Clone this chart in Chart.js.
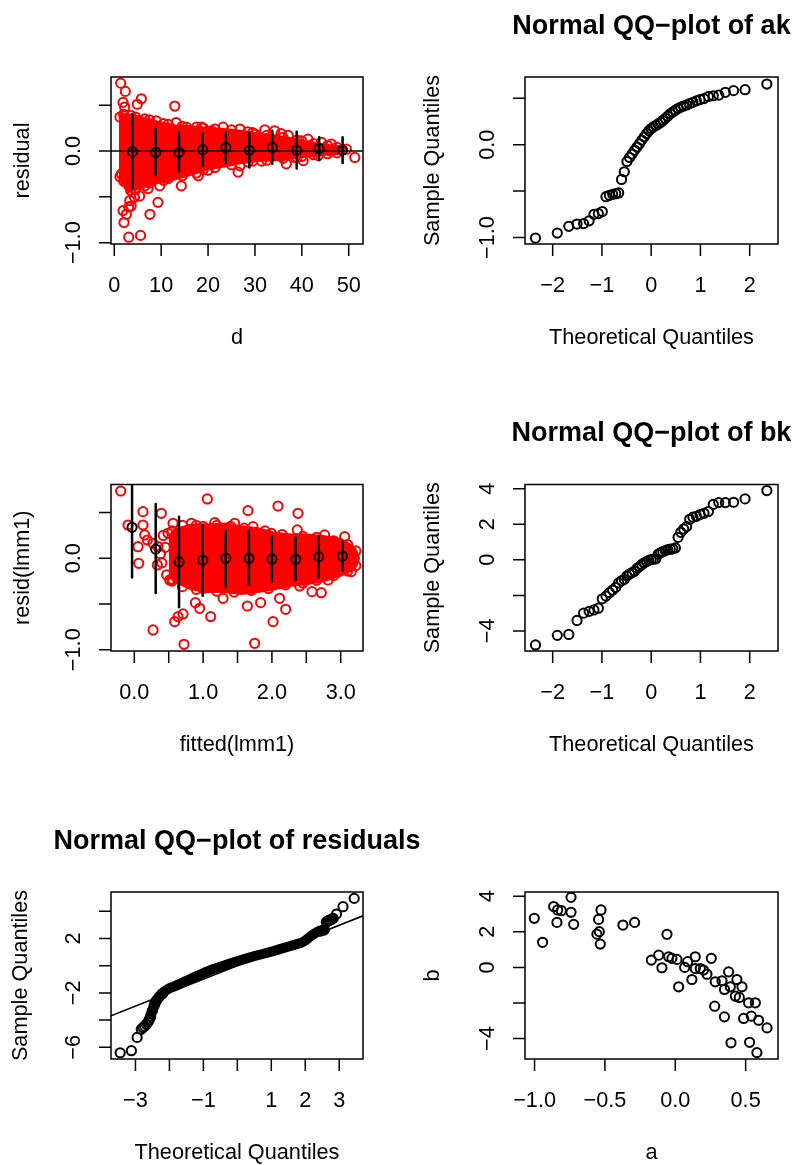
<!DOCTYPE html>
<html>
<head>
<meta charset="utf-8">
<title>lmm1 diagnostics</title>
<script src="https://cdn.jsdelivr.net/npm/chart.js@4.4.1/dist/chart.umd.min.js"></script>
<style>
  html, body { margin: 0; padding: 0; background: #fff; }
  #page { position: relative; width: 797px; height: 1165px; overflow: hidden; background: #fff; }
  #page canvas { position: absolute; left: 0; top: 0; }
</style>
</head>
<body>
<div id="page">
  <canvas id="p1" width="797" height="1165"></canvas>
  <canvas id="p2" width="797" height="1165"></canvas>
  <canvas id="p3" width="797" height="1165"></canvas>
  <canvas id="p4" width="797" height="1165"></canvas>
  <canvas id="p5" width="797" height="1165"></canvas>
  <canvas id="p6" width="797" height="1165"></canvas>
</div>
<script>
// ---- residual vs d ----
// scattered red circles (outside the dense core)
const resD = [1.36, 2.35, 1.86, 2.2, 4.9, 5.77, 12.9, 8.97, 13.2, 15.4, 23.2, 26.8, 32.1, 35.6, 37.1, 41.3, 46.3, 51.3, 49.5, 40.3,
  36.7, 31.4, 26.4, 26.8, 20.0, 17.9, 14.3, 9.7, 7.2, 5.4, 9.3, 7.6, 3.3, 1.86, 3.07, 2.07, 3.07, 5.6, 2.57, 3.6,
  4.3, 1.5, 18.6, 20.7, 30.0, 34.2, 41.7, 44.2, 43.5, 46.0, 38.5, 35.6];
const resY = [0.74, 0.65, 0.53, 0.48, 0.51, 0.57, 0.49, 0.33, 0.31, 0.26, 0.26, 0.24, 0.23, 0.19, 0.17, 0.13, 0.076, -0.07, 0.02, -0.105,
  -0.14, -0.11, -0.23, -0.16, -0.21, -0.27, -0.38, -0.38, -0.41, -0.49, -0.56, -0.69, -0.54, -0.65, -0.61, -0.78, -0.94, -0.92, -0.69, -0.60,
  -0.505, -0.25, 0.26, 0.22, 0.185, 0.22, 0.06, 0.095, -0.05, 0.0, -0.07, -0.05];
// circles sitting on the rim of the dense core
const resRimD = [1.2, 2.0, 3.5, 4.5, 6.5, 7.5, 10.5, 11.5, 14.5, 17.5, 19, 21.5, 25, 28.5, 29.5, 32.5, 36, 39, 40, 42.5, 45.5, 47.5,
  1.2, 2.0, 3.5, 4.5, 6.5, 7.5, 10.5, 11.5, 14.5, 17.5, 19, 21.5, 25, 28.5, 29.5, 32.5, 36, 39, 40, 42.5, 45.5, 47.5];
const resRimY = [0.37, 0.40, 0.39, 0.37, 0.35, 0.34, 0.30, 0.29, 0.27, 0.26, 0.25, 0.24, 0.23, 0.21, 0.20, 0.17, 0.15, 0.12, 0.11, 0.08, 0.06, 0.04,
  -0.28, -0.33, -0.43, -0.42, -0.38, -0.35, -0.32, -0.30, -0.27, -0.24, -0.20, -0.18, -0.15, -0.12, -0.11, -0.10, -0.08, -0.07, -0.06, -0.04, -0.03, -0.02];
// outline of the solid red core
const resBandD = [1.0, 1.5, 2.9, 5.8, 9.3, 12.9, 16.4, 20.0, 23.6, 27.1, 30.7, 34.2, 37.8, 41.3, 44.9, 48.4, 49.5];
const resBandHi = [0.37, 0.40, 0.40, 0.37, 0.32, 0.28, 0.27, 0.25, 0.24, 0.22, 0.19, 0.17, 0.14, 0.10, 0.07, 0.05, 0.03];
const resBandLo = [-0.27, -0.35, -0.45, -0.40, -0.35, -0.31, -0.26, -0.20, -0.17, -0.13, -0.11, -0.10, -0.08, -0.06, -0.04, -0.03, -0.01];
// binned means with bars
const binD = [3.85, 8.83, 13.8, 18.85, 23.8, 28.8, 33.7, 38.9, 43.7, 48.7];
const binMean = [-0.007, -0.015, -0.015, 0.015, 0.04, 0.01, 0.04, 0.01, 0.025, 0.01];
const binLo = [-0.41, -0.26, -0.22, -0.16, -0.13, -0.18, -0.14, -0.19, -0.10, -0.13];
const binHi = [0.40, 0.24, 0.20, 0.19, 0.21, 0.20, 0.22, 0.21, 0.15, 0.15];

// ---- normal QQ of ak and bk ----
const qqTheo = [-2.349, -1.906, -1.673, -1.506, -1.372, -1.260, -1.162, -1.073, -0.993, -0.918, -0.848, -0.782, -0.720, -0.660,
  -0.602, -0.546, -0.492, -0.440, -0.388, -0.337, -0.287, -0.238, -0.190, -0.142, -0.095, -0.047, 0, 0.047, 0.095, 0.142,
  0.190, 0.238, 0.287, 0.337, 0.388, 0.440, 0.492, 0.546, 0.602, 0.660, 0.720, 0.782, 0.848, 0.918, 0.993, 1.073, 1.162,
  1.260, 1.372, 1.506, 1.673, 1.906, 2.349];
const akSample = [-1.006, -0.952, -0.880, -0.855, -0.850, -0.820, -0.750, -0.742, -0.720, -0.560, -0.545, -0.535, -0.528, -0.520,
  -0.374, -0.291, -0.180, -0.137, -0.100, -0.060, -0.025, 0.010, 0.050, 0.085, 0.120, 0.150, 0.175, 0.193, 0.208, 0.224,
  0.240, 0.261, 0.284, 0.308, 0.333, 0.352, 0.372, 0.390, 0.405, 0.417, 0.429, 0.443, 0.457, 0.473, 0.486, 0.497, 0.520,
  0.528, 0.535, 0.565, 0.583, 0.593, 0.654];
const bkSample = [-4.79, -4.25, -4.20, -3.41, -3.00, -2.90, -2.82, -2.72, -2.19, -2.04, -1.85, -1.70, -1.55, -1.30,
  -1.18, -1.10, -0.90, -0.80, -0.72, -0.64, -0.48, -0.38, -0.26, -0.17, -0.10, -0.03, 0.02, 0.04, 0.06, 0.32,
  0.40, 0.46, 0.52, 0.57, 0.60, 0.62, 0.67, 1.27, 1.55, 1.74, 1.87, 2.28, 2.40, 2.45, 2.55, 2.62, 2.72,
  3.12, 3.22, 3.22, 3.24, 3.43, 3.90];

// ---- resid vs fitted ----
const fitX = [-0.198, 0.126, 0.393, 1.061, 1.652, 2.088, 2.379, -0.092, 0.126, 0.151, 0.054, 0.064, 0.19, 0.27, 0.344, 0.335, 0.272, 0.587,
  0.635, 0.708, 0.722, 0.888, 0.95, 1.11, 1.29, 1.643, 1.749, 1.836, 2.016, 2.2, 2.112, 2.583, 2.718, 2.403, 2.815, 3.154, 3.20,
  3.057, 0.514, 0.563, 0.83, 1.169, 1.459, 1.725, 1.991, 2.369, 2.766, 0.49, 0.42, 0.45, 0.40, 0.47, 0.55, 0.38];
const fitY = [0.736, 0.51, 0.492, 0.649, 0.521, 0.572, 0.492, 0.364, 0.364, 0.255, 0.127, -0.055, 0.20, 0.164, 0.127, -0.073, -0.784, -0.693,
  -0.638, -0.609, -0.941, -0.485, -0.547, -0.638, -0.438, -0.522, -0.93, -0.485, -0.693, -0.558, -0.438, -0.365, -0.376, -0.303, -0.237, -0.146, 0.0,
  0.237, -0.237, 0.383, 0.383, 0.39, 0.383, 0.346, 0.273, 0.31, 0.255, 0.273, 0.25, 0.12, -0.05, -0.18, -0.25, 0.05];
const fitRimX = [0.55, 0.7, 0.9, 1.0, 1.2, 1.4, 1.6, 1.9, 2.15, 2.45, 2.65, 2.9, 3.1, 3.22,
  0.55, 0.7, 0.9, 1.0, 1.2, 1.45, 1.7, 1.95, 2.2, 2.45, 2.65, 2.9, 3.1, 3.22];
const fitRimY = [0.30, 0.36, 0.36, 0.35, 0.36, 0.35, 0.33, 0.30, 0.26, 0.24, 0.23, 0.19, 0.15, 0.08,
  -0.23, -0.31, -0.34, -0.33, -0.36, -0.37, -0.35, -0.33, -0.29, -0.27, -0.24, -0.19, -0.14, -0.08];
const fitBandX = [0.5, 0.59, 0.83, 1.07, 1.31, 1.556, 1.8, 2.04, 2.28, 2.52, 2.77, 3.01, 3.2, 3.25];
const fitBandHi = [0.24, 0.32, 0.37, 0.37, 0.38, 0.35, 0.33, 0.28, 0.26, 0.26, 0.24, 0.21, 0.12, 0.05];
const fitBandLo = [-0.19, -0.26, -0.34, -0.37, -0.37, -0.39, -0.37, -0.34, -0.30, -0.28, -0.245, -0.19, -0.12, -0.05];
const fitBinX = [-0.033, 0.311, 0.65, 0.994, 1.328, 1.667, 2.0, 2.345, 2.68, 3.024];
const fitBinMean = [0.339, 0.10, -0.037, -0.019, 0.0, 0.0, -0.008, -0.011, 0.018, 0.025];
const fitBinLo = [-0.21, -0.38, -0.536, -0.41, -0.317, -0.29, -0.255, -0.237, -0.208, -0.135];
const fitBinHi = [0.85, 0.594, 0.455, 0.364, 0.31, 0.30, 0.244, 0.23, 0.237, 0.182];

// ---- normal QQ of residuals ----
const qqResCoreX = [-2.55, -2.48, -2.40, -2.33, -2.24, -2.14, -2.0, -1.84, -1.6, -1.45, -1.2, -0.96, -0.7, -0.47, -0.2, 0.02,
  0.3, 0.51, 0.8, 1.0, 1.25, 1.49, 1.7, 1.89, 2.0, 2.08, 2.18, 2.28, 2.4, 2.52, 2.58];
const qqResCoreY = [-3.55, -3.14, -2.60, -2.35, -2.08, -1.88, -1.65, -1.50, -1.22, -1.05, -0.76, -0.50, -0.24, -0.05, 0.18, 0.35,
  0.56, 0.71, 0.90, 1.03, 1.22, 1.40, 1.55, 1.69, 1.85, 2.01, 2.2, 2.38, 2.55, 2.62, 2.66];
const qqResTailX = [-3.45, -3.12, -2.95, -2.83, -2.78, -2.73, -2.68, -2.63, -2.60, -2.57, -2.55, -2.50, -2.45, -2.42, -2.38, -2.30, -2.20,
  2.45, 2.55, 2.62, 2.66, 2.70, 2.74, 2.78, 2.82, 2.92, 3.11, 3.44];
const qqResTailY = [-6.40, -6.25, -5.27, -4.68, -4.55, -4.45, -4.30, -4.15, -4.00, -3.85, -3.70, -3.30, -2.95, -2.75, -2.55, -2.30, -2.05,
  2.55, 2.62, 3.22, 3.28, 3.33, 3.38, 3.42, 3.48, 3.80, 4.34, 4.95];
const qqLineX = [-3.72, 3.70];
const qqLineY = [-3.68, 3.67];

// ---- b vs a ----
const aVals = [-1.002, -0.943, -0.864, -0.836, -0.81, -0.841, -0.741, -0.741, -0.722, -0.528, -0.545, -0.54, -0.557, -0.533, -0.372,
  -0.289, -0.059, -0.17, -0.118, -0.095, -0.047, -0.024, 0.012, 0.024, 0.067, 0.088, 0.118, 0.142, 0.142, 0.178, 0.2, 0.225,
  0.256, 0.284, 0.28, 0.332, 0.35, 0.349, 0.379, 0.391, 0.427, 0.438, 0.455, 0.474, 0.486, 0.521, 0.54, 0.569, 0.396, 0.528,
  0.592, 0.58, 0.652];
const bVals = [2.76, 1.41, 3.42, 3.23, 3.19, 2.53, 3.94, 3.10, 2.42, 3.23, 2.70, 2.01, 1.87, 1.31, 2.38,
  2.53, 1.86, 0.41, 0.69, -0.02, 0.60, 0.51, 0.45, -1.09, 0.0, 0.32, -0.68, 0.60, -0.06, -0.06, -0.15, -0.38,
  0.51, -0.81, -2.18, -0.75, -1.24, -2.78, -0.25, -1.09, -1.62, -0.68, -1.69, -1.09, -2.87, -1.99, -2.74, -1.99, -4.24, -4.21,
  -2.97, -4.79, -3.40];

// ---- tick marks and labels ----
const M = '\u2212';
const dTicks = [0, 10, 20, 30, 40, 50];
const dLabels = ['0', '10', '20', '30', '40', '50'];
const residTicks = [-1, -0.5, 0, 0.5];
const residLabels = [M + '1.0', '', '0.0', ''];
const theoTicks = [-2, -1, 0, 1, 2];
const theoLabels = [M + '2', M + '1', '0', '1', '2'];
const fitTicks = [0, 0.5, 1, 1.5, 2, 2.5, 3];
const fitLabels = ['0.0', '', '1.0', '', '2.0', '', '3.0'];
const bTicks = [-4, -2, 0, 2, 4];
const bLabels = [M + '4', '', '0', '2', '4'];
const theoResTicks = [-3, -2, -1, 0, 1, 2, 3];
const theoResLabels = [M + '3', '', M + '1', '', '1', '2', '3'];
const sampResTicks = [-6, -4, -2, 0, 2, 4];
const sampResLabels = [M + '6', '', M + '2', '', '2', ''];
const aTicks = [-1, -0.5, 0, 0.5];
const aLabels = [M + '1.0', M + '0.5', '0.0', '0.5'];

const FONT = '"Liberation Sans", Arial, Helvetica, sans-serif';

// R-style box, outward ticks, rotated y labels, titles
const baseAxes = {
  id: 'baseAxes',
  afterDraw(chart, args, o) {
    const ctx = chart.ctx;
    const a = chart.chartArea;
    const xs = chart.scales.x, ys = chart.scales.y;
    ctx.save();
    ctx.strokeStyle = '#000';
    ctx.fillStyle = '#000';
    ctx.lineWidth = 1.5;
    ctx.strokeRect(a.left, a.top, a.right - a.left, a.bottom - a.top);

    ctx.beginPath();
    o.xTicks.forEach(v => {
      const px = xs.getPixelForValue(v);
      ctx.moveTo(px, a.bottom);
      ctx.lineTo(px, a.bottom + 12);
    });
    o.yTicks.forEach(v => {
      const py = ys.getPixelForValue(v);
      ctx.moveTo(a.left, py);
      ctx.lineTo(a.left - 12, py);
    });
    ctx.stroke();

    ctx.font = '21.7px ' + FONT;
    ctx.textAlign = 'center';
    ctx.textBaseline = 'alphabetic';
    o.xTicks.forEach((v, i) => {
      if (o.xLabels[i]) ctx.fillText(o.xLabels[i], xs.getPixelForValue(v), a.bottom + 48);
    });
    o.yTicks.forEach((v, i) => {
      if (!o.yLabels[i]) return;
      ctx.save();
      ctx.translate(a.left - 31, ys.getPixelForValue(v));
      ctx.rotate(-Math.PI / 2);
      ctx.fillText(o.yLabels[i], 0, 0);
      ctx.restore();
    });

    ctx.fillText(o.xTitle, (a.left + a.right) / 2, a.bottom + 100);
    ctx.save();
    ctx.translate(o.yTitleX, (a.top + a.bottom) / 2);
    ctx.rotate(-Math.PI / 2);
    ctx.fillText(o.yTitle, 0, 0);
    ctx.restore();

    if (o.main) {
      ctx.font = 'bold 27px ' + FONT;
      ctx.fillText(o.main, (a.left + a.right) / 2, a.top - 43.5);
    }
    ctx.restore();
  }
};

const pts = (xs, ys) => xs.map((x, i) => ({ x: x, y: ys[i] }));
const segs = (xs, lo, hi) => xs.flatMap((x, i) => [{ x: x, y: lo[i] }, { x: x, y: hi[i] }, { x: x, y: null }]);

function circles(data, color, order) {
  return {
    data: data, showLine: false, order: order,
    pointStyle: 'circle', pointRadius: 4.6, pointBorderWidth: 2,
    pointBorderColor: color, pointBackgroundColor: 'rgba(0,0,0,0)'
  };
}
function path(data, color, width, order) {
  return {
    data: data, showLine: true, order: order, fill: false, spanGaps: false,
    borderColor: color, borderWidth: width, pointRadius: 0,
    borderCapStyle: 'round', borderJoinStyle: 'round'
  };
}
// dense cloud: upper outline filled down to the lower outline
function band(xs, hi, lo, color) {
  return [
    { data: pts(xs, hi), showLine: true, order: 9, fill: '+1', backgroundColor: color,
      borderColor: color, borderWidth: 2, pointRadius: 0 },
    { data: pts(xs, lo), showLine: true, order: 9, fill: false,
      borderColor: color, borderWidth: 2, pointRadius: 0 }
  ];
}

function rPanel(id, box, xRange, yRange, datasets, axes) {
  return new Chart(document.getElementById(id), {
    type: 'line',
    data: { datasets: datasets },
    options: {
      responsive: false,
      animation: false,
      devicePixelRatio: 1,
      events: [],
      layout: { padding: { left: box[0], top: box[1], right: 797 - box[2], bottom: 1165 - box[3] } },
      scales: {
        x: { type: 'linear', display: false, min: xRange[0], max: xRange[1] },
        y: { type: 'linear', display: false, min: yRange[0], max: yRange[1] }
      },
      plugins: {
        legend: { display: false },
        tooltip: { enabled: false },
        baseAxes: axes
      }
    },
    plugins: [baseAxes]
  });
}

const RED = '#ff0000';
const BLACK = '#000000';

rPanel('p1', [111, 77, 363, 244], [-0.704, 53.05], [-1.014, 0.807], [
  ...band(resBandD, resBandHi, resBandLo, RED),
  circles(pts(resRimD, resRimY), RED, 8),
  circles(pts(resD, resY), RED, 8),
  path(pts([-0.704, 53.05], [0, 0]), BLACK, 1.6, 7),
  path(segs(binD, binLo, binHi), BLACK, 2.5, 6),
  circles(pts(binD, binMean), BLACK, 5)
], { xTicks: dTicks, xLabels: dLabels, yTicks: residTicks, yLabels: residLabels,
     xTitle: 'd', yTitle: 'residual', yTitleX: 29 });

rPanel('p2', [525, 77, 778, 244], [-2.562, 2.575], [-1.070, 0.730], [
  circles(pts(qqTheo, akSample), BLACK, 1)
], { xTicks: theoTicks, xLabels: theoLabels, yTicks: residTicks, yLabels: residLabels,
     xTitle: 'Theoretical Quantiles', yTitle: 'Sample Quantiles', yTitleX: 439,
     main: 'Normal QQ' + M + 'plot of ak' });

rPanel('p3', [111, 484.5, 363, 651], [-0.339, 3.324], [-1.014, 0.807], [
  ...band(fitBandX, fitBandHi, fitBandLo, RED),
  circles(pts(fitRimX, fitRimY), RED, 8),
  circles(pts(fitX, fitY), RED, 8),
  path(segs(fitBinX, fitBinLo, fitBinHi), BLACK, 2.5, 6),
  circles(pts(fitBinX, fitBinMean), BLACK, 5)
], { xTicks: fitTicks, xLabels: fitLabels, yTicks: residTicks, yLabels: residLabels,
     xTitle: 'fitted(lmm1)', yTitle: 'resid(lmm1)', yTitleX: 29 });

rPanel('p4', [525, 484.5, 778, 651], [-2.562, 2.575], [-5.13, 4.24], [
  circles(pts(qqTheo, bkSample), BLACK, 1)
], { xTicks: theoTicks, xLabels: theoLabels, yTicks: bTicks, yLabels: bLabels,
     xTitle: 'Theoretical Quantiles', yTitle: 'Sample Quantiles', yTitleX: 439,
     main: 'Normal QQ' + M + 'plot of bk' });

rPanel('p5', [111, 892, 363, 1059], [-3.72, 3.70], [-6.86, 5.42], [
  path(pts(qqResCoreX, qqResCoreY), BLACK, 10, 9),
  circles(pts(qqResTailX, qqResTailY), BLACK, 8),
  path(pts(qqLineX, qqLineY), BLACK, 1.6, 7)
], { xTicks: theoResTicks, xLabels: theoResLabels, yTicks: sampResTicks, yLabels: sampResLabels,
     xTitle: 'Theoretical Quantiles', yTitle: 'Sample Quantiles', yTitleX: 27,
     main: 'Normal QQ' + M + 'plot of residuals' });

rPanel('p6', [525, 892, 778, 1059], [-1.068, 0.730], [-5.15, 4.24], [
  circles(pts(aVals, bVals), BLACK, 1)
], { xTicks: aTicks, xLabels: aLabels, yTicks: bTicks, yLabels: bLabels,
     xTitle: 'a', yTitle: 'b', yTitleX: 439 });
</script>
</body>
</html>
